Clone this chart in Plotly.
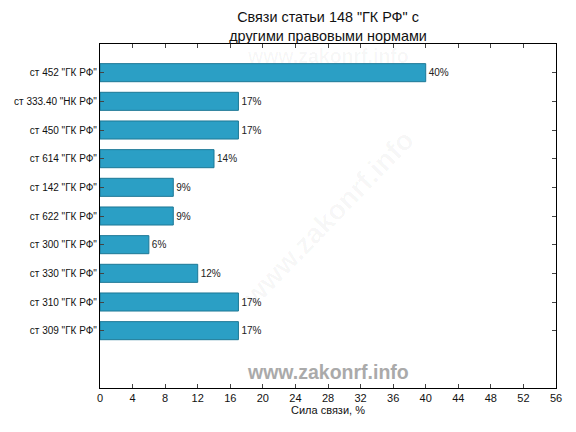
import plotly.graph_objects as go

categories = ['ст 452 "ГК РФ"', 'ст 333.40 "НК РФ"', 'ст 450 "ГК РФ"', 'ст 614 "ГК РФ"',
              'ст 142 "ГК РФ"', 'ст 622 "ГК РФ"', 'ст 300 "ГК РФ"', 'ст 330 "ГК РФ"',
              'ст 310 "ГК РФ"', 'ст 309 "ГК РФ"']
values = [40, 17, 17, 14, 9, 9, 6, 12, 17, 17]
x_ticks = list(range(0, 57, 4))

n = len(categories)
positions = [n - 1 - i for i in range(n)]
labels = [f"{v}%" for v in values]

FONT = "Liberation Sans, Arial, sans-serif"

fig = go.Figure()
fig.add_trace(go.Bar(
    x=values, y=positions, orientation="h", width=0.63,
    marker=dict(color="#2b9fc5", line=dict(color="#1d7896", width=1)),
    text=labels, textposition="outside", cliponaxis=False,
    textfont=dict(size=10, color="#222222", family=FONT),
    hoverinfo="skip",
))

fig.update_layout(
    width=576, height=432,
    margin=dict(l=100, r=20, t=44, b=44),
    paper_bgcolor="white", plot_bgcolor="white",
    showlegend=False,
    font=dict(family=FONT, color="#111111"),
    title=dict(text='Связи статьи 148 "ГК РФ" с<br>другими правовыми нормами',
               x=328/576, xanchor="center", y=0.948, yanchor="top",
               font=dict(size=14.4, color="#111111", family=FONT)),
    xaxis=dict(range=[0, 56], tickvals=x_ticks, ticks="inside", ticklen=4,
               showline=True, linecolor="black", linewidth=1.2, mirror="ticks",
               showgrid=False, zeroline=False, tickfont=dict(size=11),
               title=dict(text="Сила связи, %", font=dict(size=11), standoff=3)),
    yaxis=dict(range=[-2.0, 10.0], tickvals=positions, ticktext=categories,
               ticks="inside", ticklen=4, showline=True, linecolor="black",
               linewidth=1.2, mirror="ticks", showgrid=False, zeroline=False,
               tickfont=dict(size=10)),
    annotations=[
        dict(text="<b>www.zakonrf.info</b>", x=0.5, y=(388 - 372) / 344, xref="paper", yref="paper",
             showarrow=False, font=dict(size=19.5, color="#aaaaaa", family=FONT),
             xanchor="center", yanchor="middle"),
        dict(text="<b>www.zakonrf.info</b>", x=0.5, y=(388 - 56) / 344, xref="paper", yref="paper",
             showarrow=False, font=dict(size=19.5, color="rgba(0,0,0,0.035)", family=FONT),
             xanchor="center", yanchor="middle"),
        dict(text="<b>www.zakonrf.info</b>", x=0.5, y=(388 - 218) / 344, xref="paper", yref="paper",
             showarrow=False, textangle=-46,
             font=dict(size=28, color="rgba(0,0,0,0.035)", family=FONT),
             xanchor="center", yanchor="middle"),
    ],
)

fig.write_html("out.html", config={"displayModeBar": False},
               post_script="document.body.style.margin='0';document.body.style.overflow='hidden';")
